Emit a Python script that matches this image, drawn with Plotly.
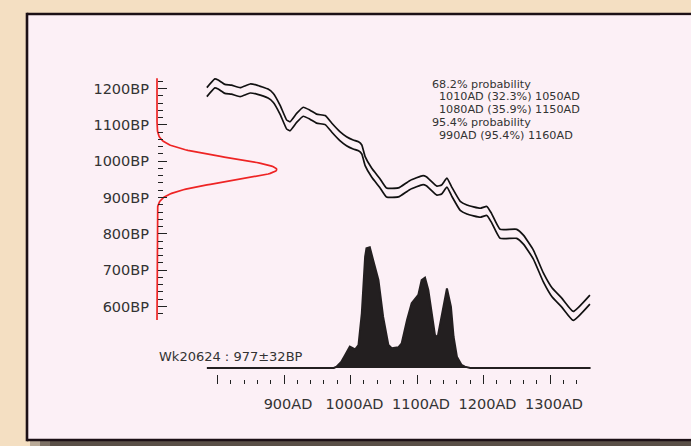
import numpy as np
import plotly.graph_objects as go

W, H = 720, 446   # figure drawn slightly wider than the 691px window; frame runs off the right edge

# ---------------- data ----------------
sample_label = "Wk20624"
measurement_bp = 977
measurement_err = 32

# calibration curve (AD, BP centre) and 1-sigma half-width
curve_ad = [784, 796, 801, 811, 821, 834, 849, 859, 876, 884, 894, 904, 909, 919, 929,
            939, 949, 962, 972, 984, 994, 1004, 1012, 1017, 1022, 1032, 1044, 1054,
            1072, 1089, 1109, 1114, 1130, 1137, 1145, 1152, 1165, 1175, 1195, 1205,
            1212, 1225, 1250, 1260, 1275, 1290, 1303, 1318, 1335, 1360]
curve_bp = [1190, 1214, 1211, 1199, 1197, 1190, 1200, 1197, 1186, 1174, 1142, 1101, 1096,
            1119, 1136, 1128, 1117, 1113, 1092, 1069, 1055, 1046, 1041, 1032, 1000, 968,
            940, 914, 914, 934, 948, 945, 919, 922, 941, 917, 877, 867, 858, 863, 844,
            800, 800, 784, 743, 680, 639, 610, 574, 619]
curve_err = 12.4

# calibrated probability distribution (relative heights)
dist_ad = [784, 975, 979, 986, 992, 999, 1007, 1012, 1017, 1022, 1024, 1029, 1034, 1042,
           1049, 1057, 1062, 1072, 1077, 1085, 1092, 1102, 1107, 1112, 1117, 1122, 1127,
           1131, 1137, 1145, 1151, 1155, 1160, 1167, 1172, 1180, 1361]
dist_prob = [0, 0, 0.011, 0.05, 0.108, 0.177, 0.155, 0.19, 0.453, 0.922, 0.992, 1.0,
             0.895, 0.729, 0.425, 0.19, 0.163, 0.171, 0.205, 0.398, 0.536, 0.605, 0.729,
             0.748, 0.646, 0.453, 0.273, 0.254, 0.425, 0.66, 0.508, 0.259, 0.094, 0.025,
             0.011, 0, 0]

# probability ranges
hpd68 = [(1010, 32.3, 1050), (1080, 35.9, 1150)]
hpd95 = [(990, 95.4, 1160)]

# axis ticks
x_major = [800, 900, 1000, 1100, 1200, 1300]
x_major_text = ["", "900AD", "1000AD", "1100AD", "1200AD", "1300AD"]
x_minor = [v for v in range(820, 1341, 20) if v % 100]
y_major = [600, 700, 800, 900, 1000, 1100, 1200]
y_major_text = [f"{v}BP" for v in y_major]
y_minor = [v for v in range(580, 1221, 20) if v % 100]
bp_span = (563, 1228)

# ---------------- figure ----------------
def px(x):
    return x / W

def py(y):
    return 1 - y / H

TXT = "#333333"
FONT = "DejaVu Sans"
FRAME = "#1c1016"
INNER = "#fcf0f6"

fig = go.Figure()

# measurement (red normal curve on the BP axis)
bp_grid = np.linspace(bp_span[0], bp_span[1], 400)
dens = np.exp(-0.5 * ((bp_grid - measurement_bp) / measurement_err) ** 2)
fig.add_trace(go.Scatter(x=dens, y=bp_grid, xaxis="x2", yaxis="y", mode="lines",
                         line=dict(color="#ee2424", width=1.7), hoverinfo="skip"))

# calibration curve band lines
upper = [b + curve_err for b in curve_bp]
lower = [b - curve_err for b in curve_bp]
for arr in (upper, lower):
    fig.add_trace(go.Scatter(x=curve_ad, y=arr, xaxis="x", yaxis="y", mode="lines",
                             line=dict(color="#111111", width=1.7, shape="spline",
                                       smoothing=0.4),
                             hoverinfo="skip"))

# calibrated distribution
fig.add_trace(go.Scatter(x=dist_ad, y=dist_prob, xaxis="x", yaxis="y2", mode="lines",
                         fill="tozeroy", fillcolor="#231f20",
                         line=dict(color="#231f20", width=2), hoverinfo="skip"))

# axis geometry (pixel calibrations)
x_px_per_year = 0.665
x_r0 = 900 - 284 / x_px_per_year
x_r1 = x_r0 + W / x_px_per_year
y_px_per_year = 0.36333
y_r1 = 1200 + 88.5 / y_px_per_year
y_r0 = 1200 - (H - 88.5) / y_px_per_year
g_px = 119.7
g_r0 = -157 / g_px
g_r1 = g_r0 + W / g_px
d_px = 120.7
d_r0 = -(H - 368) / d_px
d_r1 = 368 / d_px

shapes = [
    # shadow under frame
    dict(type="rect", xref="paper", yref="paper", x0=px(30), x1=px(40), y0=0, y1=py(440),
         fillcolor="#b9aa98", line=dict(width=0), layer="below"),
    dict(type="rect", xref="paper", yref="paper", x0=px(40), x1=px(50), y0=0, y1=py(440),
         fillcolor="#7d7166", line=dict(width=0), layer="below"),
    dict(type="rect", xref="paper", yref="paper", x0=px(50), x1=1, y0=0, y1=py(440),
         fillcolor="#5a5048", line=dict(width=0), layer="below"),
    # frame fill
    dict(type="rect", xref="paper", yref="paper", x0=px(27), x1=1, y0=py(440), y1=py(14),
         fillcolor=INNER, line=dict(width=0), layer="below"),
    # frame edges (right edge lies outside the picture)
    dict(type="line", xref="paper", yref="paper", x0=px(27), x1=1, y0=py(14), y1=py(14),
         line=dict(color=FRAME, width=2.6), layer="below"),
    dict(type="line", xref="paper", yref="paper", x0=px(27), x1=1, y0=py(440), y1=py(440),
         line=dict(color=FRAME, width=2.6), layer="below"),
    dict(type="line", xref="paper", yref="paper", x0=px(27), x1=px(27), y0=py(441.2),
         y1=py(12.8), line=dict(color=FRAME, width=2.6), layer="below"),
    # keep the inner area plain up to the right picture edge
    dict(type="rect", xref="paper", yref="paper", x0=px(660), x1=1, y0=py(438.6),
         y1=py(15.4), fillcolor=INNER, line=dict(width=0), layer="above"),
]

annotations = [
    dict(text=f"{sample_label} : {measurement_bp}±{measurement_err}BP", xref="paper",
         yref="paper", x=px(157), y=py(356.5), xanchor="left", yanchor="middle",
         showarrow=False, font=dict(family=FONT, size=13, color=TXT)),
]
prob_lines = [("68.2% probability", 432)]
prob_lines += [(f"{a}AD ({p}%) {b}AD", 439) for a, p, b in hpd68]
prob_lines += [("95.4% probability", 432)]
prob_lines += [(f"{a}AD ({p}%) {b}AD", 439) for a, p, b in hpd95]
for i, (t, xx) in enumerate(prob_lines):
    annotations.append(dict(text=t, xref="paper", yref="paper", x=px(xx - 1),
                            y=py(84 + i * 12.8), xanchor="left", yanchor="middle",
                            showarrow=False, borderpad=0,
                            font=dict(family=FONT, size=11.2, color=TXT)))

fig.update_layout(
    width=W, height=H, margin=dict(l=0, r=0, t=0, b=0),
    paper_bgcolor="#f4dfc2", plot_bgcolor="rgba(0,0,0,0)",
    showlegend=False, shapes=shapes, annotations=annotations,
    xaxis=dict(domain=[0, 1], range=[x_r0, x_r1], anchor="free", position=py(384),
               showline=False, showgrid=False, zeroline=False,
               tickmode="array", tickvals=x_major, ticktext=x_major_text,
               ticks="inside", ticklen=9, tickwidth=1.3, tickcolor="#222222",
               ticklabelstandoff=9, ticklabelshift=4,
               tickfont=dict(family=FONT, size=14.5, color=TXT),
               minor=dict(tickmode="array", tickvals=x_minor, ticks="inside",
                          ticklen=4.5, tickwidth=1.3, tickcolor="#222222",
                          showgrid=False)),
    yaxis=dict(domain=[0, 1], range=[y_r0, y_r1], anchor="free", position=px(157),
               showline=False, showgrid=False, zeroline=False,
               tickmode="array", tickvals=y_major, ticktext=y_major_text,
               ticks="inside", ticklen=9, tickwidth=1.3, tickcolor="#222222",
               ticklabelstandoff=8,
               tickfont=dict(family=FONT, size=14.5, color=TXT),
               minor=dict(tickmode="array", tickvals=y_minor, ticks="inside",
                          ticklen=4.5, tickwidth=1.3, tickcolor="#222222",
                          showgrid=False)),
    xaxis2=dict(domain=[0, 1], range=[g_r0, g_r1], overlaying="x", anchor="y",
                visible=False),
    yaxis2=dict(domain=[0, 1], range=[d_r0, d_r1], overlaying="y", anchor="x",
                visible=False),
)

fig.write_html("out.html", config={"displayModeBar": False},
               post_script="document.body.style.margin='0';"
                           "document.body.style.overflow='hidden';"
                           "document.documentElement.style.overflow='hidden';")
